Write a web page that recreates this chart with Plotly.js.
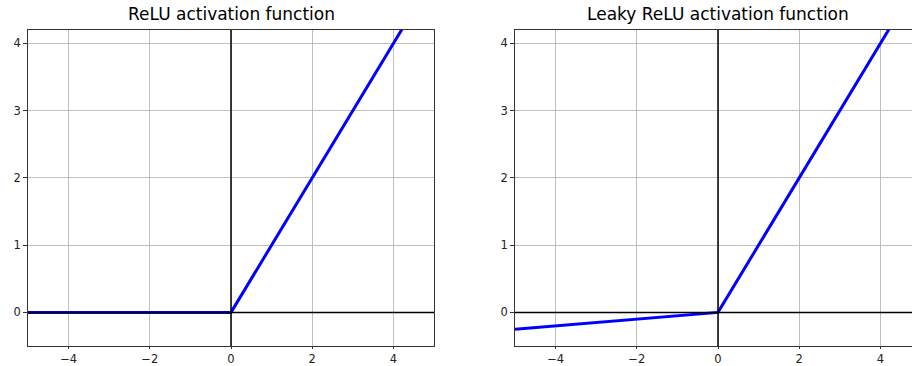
<!DOCTYPE html>
<html>
<head>
<meta charset="utf-8">
<script src="https://cdn.plot.ly/plotly-3.0.1.min.js"></script>
<style>
html, body { margin: 0; padding: 0; overflow: hidden; background: #fff; }
#chart { width: 940px; height: 366px; }
</style>
</head>
<body>
<div id="chart"></div>
<script>
// Data
const zValues = [-5, 0, 5];
const reluValues = [0, 0, 5];
const leakyValues = [-0.25, 0, 5];
const hAxisX = [-5, 5];
const hAxisY = [0, 0];
const vAxisX = [0, 0];
const vAxisY = [-0.5, 4.2];
const xTicks = [-4, -2, 0, 2, 4];
const yTicks = [0, 1, 2, 3, 4];
const titles = ["ReLU activation function", "Leaky ReLU activation function"];

const blue = {color: '#0000ff', width: 3};
const black = {color: '#000000', width: 1.5};

const traces = [
  {x: zValues, y: reluValues, mode: 'lines', line: blue, xaxis: 'x', yaxis: 'y', hoverinfo: 'none'},
  {x: hAxisX, y: hAxisY, mode: 'lines', line: black, xaxis: 'x', yaxis: 'y', hoverinfo: 'none'},
  {x: vAxisX, y: vAxisY, mode: 'lines', line: black, xaxis: 'x', yaxis: 'y', hoverinfo: 'none'},
  {x: zValues, y: leakyValues, mode: 'lines', line: blue, xaxis: 'x2', yaxis: 'y2', hoverinfo: 'none'},
  {x: hAxisX, y: hAxisY, mode: 'lines', line: black, xaxis: 'x2', yaxis: 'y2', hoverinfo: 'none'},
  {x: vAxisX, y: vAxisY, mode: 'lines', line: black, xaxis: 'x2', yaxis: 'y2', hoverinfo: 'none'}
];

const W = 940, L = 28, R = W - 921;
const plotW = W - L - R;
const tickFont = {family: 'DejaVu Sans', size: 11.5, color: '#222'};

function xa(domain, anchor) {
  return {
    domain: domain, anchor: anchor, range: [-5, 5],
    tickvals: xTicks, ticks: 'outside', ticklen: 2.5, tickwidth: 0.8, tickcolor: '#000',
    showgrid: true, gridcolor: '#b0b0b0', gridwidth: 0.8,
    showline: true, linecolor: '#000', linewidth: 0.8, mirror: true,
    zeroline: false, tickfont: tickFont, automargin: false, fixedrange: true
  };
}
function ya(anchor) {
  return {
    domain: [0, 1], anchor: anchor, range: [-0.5, 4.2],
    tickvals: yTicks, ticks: 'outside', ticklen: 4, tickwidth: 0.8, tickcolor: '#000',
    showgrid: true, gridcolor: '#b0b0b0', gridwidth: 0.8,
    showline: true, linecolor: '#000', linewidth: 0.8, mirror: true,
    zeroline: false, tickfont: tickFont, automargin: false, fixedrange: true
  };
}

const d1 = [0, 406 / plotW];
const d2 = [487 / plotW, 1];

const layout = {
  width: W, height: 366,
  margin: {l: L, r: R, t: 30, b: 20, pad: 0},
  showlegend: false,
  paper_bgcolor: '#fff', plot_bgcolor: '#fff',
  xaxis: xa(d1, 'y'),
  yaxis: ya('x'),
  xaxis2: xa(d2, 'y2'),
  yaxis2: ya('x2'),
  annotations: [
    {text: titles[0], xref: 'paper', yref: 'paper', x: (d1[0] + d1[1]) / 2, y: 1, yshift: 4,
     xanchor: 'center', yanchor: 'bottom', showarrow: false,
     font: {family: 'DejaVu Sans', size: 17, color: '#000'}},
    {text: titles[1], xref: 'paper', yref: 'paper', x: (d2[0] + d2[1]) / 2, y: 1, yshift: 4,
     xanchor: 'center', yanchor: 'bottom', showarrow: false,
     font: {family: 'DejaVu Sans', size: 17, color: '#000'}}
  ]
};

Plotly.newPlot('chart', traces, layout, {staticPlot: true, displayModeBar: false});
</script>
</body>
</html>
